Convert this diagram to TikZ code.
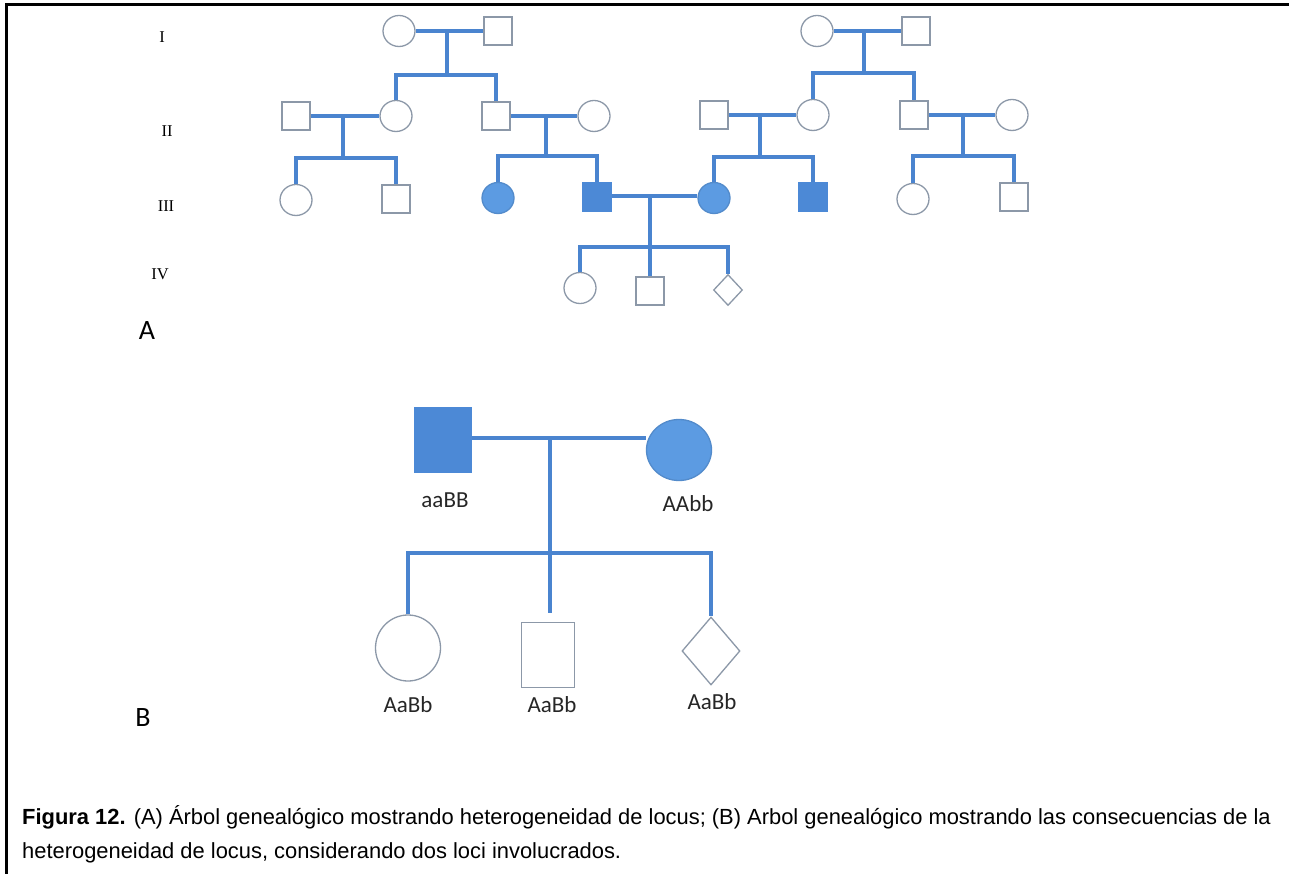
\documentclass[tikz,border=0pt]{standalone}
\usepackage{fontspec}
\setmainfont{Liberation Serif}
\newfontfamily\lblfont{Carlito}
\newfontfamily\capfont{Liberation Sans}
\usetikzlibrary{shapes.geometric}
\definecolor{pedline}{HTML}{4A84CF}
\definecolor{pedfill}{HTML}{4C89D6}
\definecolor{pedfillc}{HTML}{5C9BE2}
\definecolor{outl}{HTML}{8C98A8}
\begin{document}
\begin{tikzpicture}[x=1pt,y=-1pt,
  link/.style={draw=pedline, line width=3.5pt},
  male/.style={rectangle, draw=outl, line width=1.3pt, fill=white, minimum width=28pt, minimum height=28pt, inner sep=0pt},
  female/.style={ellipse, draw=outl, line width=1.3pt, fill=white, minimum width=32pt, minimum height=31pt, inner sep=0pt},
  unknown/.style={diamond, draw=outl, line width=1.3pt, fill=white, minimum width=29pt, minimum height=31pt, inner sep=0pt},
  affm/.style={male, draw=pedfill, fill=pedfill},
  afff/.style={female, draw=pedfillc!90!black, fill=pedfillc},
  gen/.style={font=\fontsize{16.5}{18}\selectfont},
  panel/.style={font=\lblfont\fontsize{28}{30}\selectfont},
  geno/.style={font=\lblfont\fontsize{23}{25}\selectfont, text=black!85},
  captext/.style={anchor=west, inner sep=0pt, font=\capfont\fontsize{21.9}{24}\selectfont},
]
\useasboundingbox (0,0) rectangle (1289,874);
\fill[white] (0,0) rectangle (1289,874);
% frame
\draw[line width=3pt] (6.5,874) -- (6.5,5) -- (1289,5);

% generation numbers and panel letters
\node[gen] (gI) at (162,37) {I};
\node[gen] (gII) at (167,131) {II};
\node[gen] (gIII) at (166,206) {III};
\node[gen] (gIV) at (160,274) {IV};
\node[panel] (pA) at (147,331) {A};
\node[panel] (pB) at (143,718) {B};

% ---- panel A: people ----
\node[female] (i1) at (399,31) {};
\node[male]   (i2) at (498,31) {};
\node[female] (i3) at (817,31) {};
\node[male]   (i4) at (916,31) {};

\node[male]   (ii1) at (296,116) {};
\node[female] (ii2) at (396,116) {};
\node[male]   (ii3) at (496,116) {};
\node[female] (ii4) at (594,116) {};
\node[male]   (ii5) at (714,115) {};
\node[female] (ii6) at (813,115) {};
\node[male]   (ii7) at (914,115) {};
\node[female] (ii8) at (1012,115) {};

\node[female] (iii1) at (296,200) {};
\node[male]   (iii2) at (396,199) {};
\node[afff]   (iii3) at (498,198) {};
\node[affm]   (iii4) at (597,197) {};
\node[afff]   (iii5) at (714,198) {};
\node[affm]   (iii6) at (813,197) {};
\node[female] (iii7) at (913,199) {};
\node[male]   (iii8) at (1014,197) {};

\node[female]  (iv1) at (580,288) {};
\node[male]    (iv2) at (650,291) {};
\node[unknown] (iv3) at (728,290) {};

% ---- panel A: junction points (marriage line / sibship line) ----
\coordinate (m1) at (447,31);   \coordinate (s1) at (447,75);
\coordinate (m2) at (864,31);   \coordinate (s2) at (864,73);
\coordinate (m3) at (343,116);  \coordinate (s3) at (343,158);
\coordinate (m4) at (546,116);  \coordinate (s4) at (546,156);
\coordinate (m5) at (760,115);  \coordinate (s5) at (760,157);
\coordinate (m6) at (963,115);  \coordinate (s6) at (963,156);
\coordinate (m7) at (650,196);  \coordinate (s7) at (650,247);

% ---- panel A: connectors ----
\draw[link] (i1.east |- m1) -- (i2.west |- m1);
\draw[link] (m1) -- (s1);
\draw[link] (ii2.north) |- (s1) -| (ii3.north);
\draw[link] (i3.east |- m2) -- (i4.west |- m2);
\draw[link] (m2) -- (s2);
\draw[link] (ii6.north) |- (s2) -| (ii7.north);

\draw[link] (ii1.east |- m3) -- (ii2.west |- m3);
\draw[link] (m3) -- (s3);
\draw[link] (iii1.north) |- (s3) -| (iii2.north);
\draw[link] (ii3.east |- m4) -- (ii4.west |- m4);
\draw[link] (m4) -- (s4);
\draw[link] (iii3.north) |- (s4) -| (iii4.north);
\draw[link] (ii5.east |- m5) -- (ii6.west |- m5);
\draw[link] (m5) -- (s5);
\draw[link] (iii5.north) |- (s5) -| (iii6.north);
\draw[link] (ii7.east |- m6) -- (ii8.west |- m6);
\draw[link] (m6) -- (s6);
\draw[link] (iii7.north) |- (s6) -| (iii8.north);

\draw[link] (iii4.east |- m7) -- (iii5.west |- m7);
\draw[link] (m7) -- (s7) -- (iv2.north);
\draw[link] (iv1.north) |- (s7) -| (iv3.north);

% ---- panel B ----
\node[affm, minimum width=57pt, minimum height=65pt] (bf) at (443,440) {};
\node[afff, minimum width=65pt, minimum height=61pt] (bm) at (679,450) {};
\node[female, minimum width=65pt, minimum height=66pt] (bc1) at (408,648) {};
\node[male, minimum width=53pt, minimum height=65pt]   (bc2) at (548,655) {};
\node[unknown, minimum width=58pt, minimum height=68pt] (bc3) at (711,651) {};

\node[geno] (gf) at (445,500) {aaBB};
\node[geno] (gm) at (688,504) {AAbb};
\node[geno] (g1) at (408,705) {AaBb};
\node[geno] (g2) at (552,705) {AaBb};
\node[geno] (g3) at (712,702) {AaBb};

\coordinate (bm0) at (550,438);
\coordinate (bs0) at (550,553);
\coordinate (bgap) at (550,613);
\draw[link] (bf.east |- bm0) -- (bm.west |- bm0);
\draw[link] (bm0) -- (bs0) -- (bgap);
\draw[link] (bc1.north) |- (bs0) -| (bc3.north);

% ---- caption ----
\node[captext] (cap1) at (22,817)
  {\textbf{Figura 12.} (A) Árbol genealógico mostrando heterogeneidad de locus; (B) Arbol genealógico mostrando las consecuencias de la};
\node[captext] (cap2) at (22,853)
  {heterogeneidad de locus, considerando dos loci involucrados.};
\end{tikzpicture}
\end{document}
